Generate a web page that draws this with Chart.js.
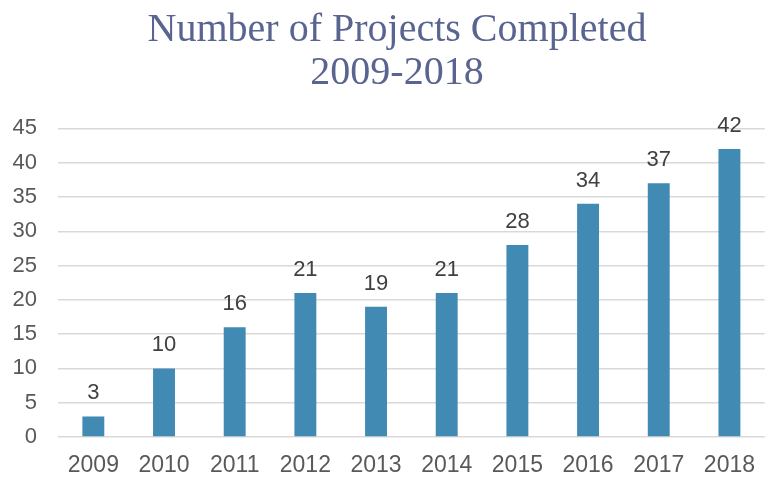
<!DOCTYPE html>
<html lang="en">
<head>
  <meta charset="UTF-8">
  <title>Number of Projects Completed</title>
  <script src="https://cdn.jsdelivr.net/npm/chart.js"></script>
  <style>
    html, body { margin: 0; padding: 0; background: #fff; }
    #wrap { width: 770px; height: 478px; }
  </style>
</head>
<body>
  <div id="wrap"><canvas id="projectsChart"></canvas></div>
  <script>
    const years = ["2009", "2010", "2011", "2012", "2013", "2014", "2015", "2016", "2017", "2018"];
    const projects = [3, 10, 16, 21, 19, 21, 28, 34, 37, 42];
    const titleLines = ["Number of Projects Completed", "2009-2018"];

    // value above each bar, and a small nudge of the title to the right
    const barLabels = {
      id: "barLabels",
      afterLayout(chart) {
        if (chart.titleBlock) chart.titleBlock.left += 24;
      },
      afterDatasetsDraw(chart) {
        const ctx = chart.ctx;
        const meta = chart.getDatasetMeta(0);
        ctx.save();
        ctx.font = "22px 'Liberation Sans', Arial, sans-serif";
        ctx.fillStyle = "#404040";
        ctx.textAlign = "center";
        ctx.textBaseline = "alphabetic";
        meta.data.forEach((bar, i) => {
          ctx.fillText(projects[i], bar.x, bar.y - 17);
        });
        ctx.restore();
      }
    };

    new Chart(document.getElementById("projectsChart"), {
      type: "bar",
      data: {
        labels: years,
        datasets: [{
          data: projects,
          backgroundColor: "#418ab3",
          barPercentage: 0.31,
          categoryPercentage: 1
        }]
      },
      options: {
        responsive: true,
        maintainAspectRatio: false,
        animation: false,
        layout: { padding: { left: 0, right: 0, top: 9, bottom: 0 } },
        plugins: {
          legend: { display: false },
          tooltip: { enabled: false },
          title: {
            display: true,
            text: titleLines,
            color: "#5a6490",
            font: { family: "'Liberation Serif', 'DejaVu Serif', serif", size: 40, weight: "normal", lineHeight: 1.08 },
            padding: { top: 0, bottom: 33 }
          }
        },
        scales: {
          x: {
            grid: { display: false, drawTicks: false },
            border: { display: false },
            ticks: {
              color: "#595959",
              padding: 15,
              font: { family: "'Liberation Sans', Arial, sans-serif", size: 23 }
            },
            afterFit(scale) { scale.height = 41; }
          },
          y: {
            min: 0,
            max: 45,
            grid: { color: "#d9d9d9", lineWidth: 1.5, drawTicks: false },
            border: { display: false },
            ticks: {
              stepSize: 5,
              color: "#595959",
              padding: 21,
              font: { family: "'Liberation Sans', Arial, sans-serif", size: 22 }
            },
            afterFit(scale) { scale.width = 58; }
          }
        }
      },
      plugins: [barLabels]
    });
  </script>
</body>
</html>
